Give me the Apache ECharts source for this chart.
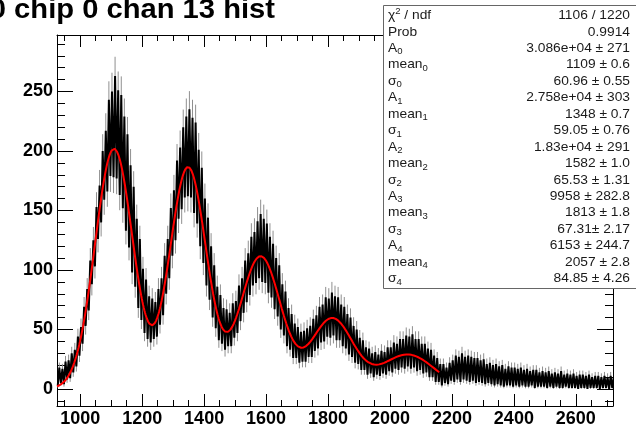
<!DOCTYPE html>
<html>
<head>
<meta charset="utf-8">
<title>0 chip 0 chan 13 hist</title>
<script src="https://cdn.jsdelivr.net/npm/echarts@6/dist/echarts.min.js"></script>
<style>
  html, body { margin: 0; padding: 0; background: #fff; }
  #chart { width: 636px; height: 425px; }
</style>
</head>
<body>
<div id="chart"></div>
<script>
// ---- histogram and fit data ----
const histTitle = '0 chip 0 chan 13 hist';

const X_MIN = 925, X_MAX = 2720;
const Y_MIN = -14.3, Y_MAX = 297.5;
const xTickLabels = [1000, 1200, 1400, 1600, 1800, 2000, 2200, 2400, 2600];
const yTickLabels = [0, 50, 100, 150, 200, 250];

// bin groups of 10 ADC counts starting at 930: lowest and highest content in each group
const binStart = 930, binStep = 10;
const bandLow = [
  3, 5, 4, 8, 9, 14, 19, 28, 38, 53,
  66, 88, 103, 126, 140, 159, 166, 179, 178, 177,
  163, 152, 133, 119, 98, 86, 68, 58, 47, 42,
  39, 42, 44, 54, 62, 80, 93, 112, 125, 143,
  151, 161, 162, 161, 148, 139, 120, 106, 87, 75,
  60, 51, 41, 38, 33, 36, 36, 43, 47, 57,
  64, 73, 79, 87, 89, 93, 90, 89, 81, 77,
  67, 61, 50, 45, 36, 33, 26, 26, 22, 23,
  23, 27, 27, 32, 34, 39, 40, 44, 43, 45,
  41, 41, 36, 34, 29, 27, 22, 21, 16, 16,
  12, 13, 10, 12, 11, 13, 12, 15, 14, 17,
  16, 18, 17, 19, 17, 18, 15, 16, 13, 14,
  10, 10, 6, 6, 3, 5, 4, 7, 6, 8,
  6, 8, 7, 6, 7, 5, 6, 5, 4, 5,
  4, 3, 4, 3, 2, 3, 3, 2, 3, 2,
  3, 2, 2, 3, 1, 2, 2, 2, 1, 2,
  1, 2, 1, 1, 2, 1, 1, 1, 0, 1,
  1, 0, 1, 1, 1, 0, 1, 1, 0, 1
];
const bandHigh = [
  18, 17, 23, 24, 30, 33, 44, 52, 69, 84,
  108, 125, 153, 171, 200, 217, 243, 250, 263, 251,
  247, 229, 214, 188, 170, 143, 126, 101, 92, 78,
  76, 73, 84, 93, 112, 126, 152, 167, 192, 203,
  220, 229, 235, 228, 224, 201, 186, 160, 144, 120,
  104, 86, 79, 68, 67, 64, 72, 74, 87, 93,
  108, 114, 128, 132, 141, 147, 143, 139, 128, 122,
  110, 104, 88, 82, 68, 63, 55, 52, 48, 49,
  51, 53, 59, 62, 69, 71, 77, 76, 81, 78,
  77, 71, 69, 63, 60, 53, 50, 43, 41, 35,
  34, 30, 31, 29, 32, 31, 35, 35, 39, 38,
  42, 42, 45, 44, 46, 42, 42, 38, 38, 34,
  33, 28, 26, 21, 21, 18, 22, 24, 28, 27,
  30, 27, 28, 27, 26, 26, 24, 25, 21, 22,
  20, 21, 19, 20, 17, 19, 18, 18, 17, 18,
  16, 17, 15, 16, 16, 14, 15, 14, 15, 13,
  14, 13, 15, 12, 13, 12, 13, 11, 12, 12,
  11, 12, 10, 11, 11, 10, 11, 10, 11, 10
];

// fit results (sum of five gaussians), as printed in the statistics box
const fitChi2 = '1106 / 1220';
const fitProb = '0.9914';
const ampText   = ['3.086e+04 ± 271', '2.758e+04 ± 303', '1.83e+04 ± 291', '9958 ± 282.8', '6153 ± 244.7'];
const meanText  = ['1109 ± 0.6', '1348 ± 0.7', '1582 ± 1.0', '1813 ± 1.8', '2057 ± 2.8'];
const sigmaText = ['60.96 ± 0.55', '59.05 ± 0.76', '65.53 ± 1.31', '67.31± 2.17', '84.85 ± 4.26'];
const fitRange = [925, 2160];

// ---- derived drawing data ----
const fitAmp = ampText.map(parseFloat);
const fitMean = meanText.map(parseFloat);
const fitSigma = sigmaText.map(parseFloat);

const histPoints = [];
bandLow.forEach((lo, i) => {
  const xc = binStart + binStep * i;
  histPoints.push([xc - binStep / 4, lo], [xc + binStep / 4, bandHigh[i]]);
});
// Poisson error bar on every plotted content
const errorBars = histPoints.map(([x, v]) => [x, v - Math.sqrt(v), v + Math.sqrt(v)]);

function fitFunc(x) {
  let s = 0;
  for (let k = 0; k < fitAmp.length; k++) {
    const z = (x - fitMean[k]) / fitSigma[k];
    s += fitAmp[k] / (fitSigma[k] * Math.sqrt(2 * Math.PI)) * Math.exp(-0.5 * z * z);
  }
  return s;
}
const fitPoints = [];
for (let x = fitRange[0]; x <= fitRange[1]; x += 2) fitPoints.push([x, fitFunc(x)]);

const xMinorTicks = [];
for (let v = 950; v < X_MAX; v += 50) xMinorTicks.push(v);
const yMinorTicks = [];
for (let v = -10; v < Y_MAX; v += 10) yMinorTicks.push(v);

// ---- styling ----
const FONT = "'Liberation Sans', Arial, Helvetica, sans-serif";
const axisFont = { fontFamily: FONT, fontWeight: 'bold', fontSize: 18, color: '#000' };

function axisDef(dim, position, ticks, len, withLine, withLabels) {
  const a = {
    type: 'value', gridIndex: 0, position,
    min: dim === 'x' ? X_MIN : Y_MIN,
    max: dim === 'x' ? X_MAX : Y_MAX,
    axisLine: { show: withLine, onZero: false, lineStyle: { color: '#000', width: 1 } },
    axisTick: { show: true, inside: true, length: len, customValues: ticks,
                lineStyle: { color: '#000', width: 1 } },
    axisLabel: { show: false },
    splitLine: { show: false },
    minorTick: { show: false }
  };
  if (withLabels) {
    a.axisLabel = Object.assign({ show: true, customValues: ticks,
      margin: 4, formatter: v => String(v) }, axisFont);
  }
  return a;
}

// statistics box rows
const statRows = [
  { label: '{b|χ}{p|2}{b| / ndf}', value: fitChi2 },
  { label: '{b|Prob}', value: fitProb }
];
for (let k = 0; k < fitAmp.length; k++) {
  statRows.push({ label: '{b|A}{s|' + k + '}', value: ampText[k] });
  statRows.push({ label: '{b|mean}{s|' + k + '}', value: meanText[k] });
  statRows.push({ label: '{b|σ}{s|' + k + '}', value: sigmaText[k] });
}
const statColor = '#1a1a1a';
const statRich = {
  b: { fontSize: 13, fontFamily: FONT, fill: statColor },
  s: { fontSize: 9, fontFamily: FONT, fill: statColor, padding: [7, 0, 0, 0] },
  p: { fontSize: 9, fontFamily: FONT, fill: statColor, padding: [0, 0, 7, 0] }
};

const graphics = [
  {
    type: 'text', x: 275, y: 11, scaleX: 1.08, z: 100, silent: true,
    style: { text: histTitle, fontFamily: FONT, fontWeight: 'bold', fontSize: 27,
             fill: '#000', align: 'right', verticalAlign: 'middle' }
  },
  {
    type: 'rect', z: 100, silent: true,
    shape: { x: 383.5, y: 5.5, width: 260, height: 283 },
    style: { fill: '#fff', stroke: '#666', lineWidth: 1 }
  }
];
statRows.forEach((row, i) => {
  const y = 15.5 + 16.45 * i;
  graphics.push({
    type: 'text', x: 388, y, scaleX: 1.06, z: 101, silent: true,
    style: { text: row.label, rich: statRich, fontSize: 13, fontFamily: FONT, fill: statColor,
             align: 'left', verticalAlign: 'middle' }
  });
  graphics.push({
    type: 'text', x: 630, y, scaleX: 1.06, z: 101, silent: true,
    style: { text: row.value, fontSize: 13, fontFamily: FONT, fill: statColor,
             align: 'right', verticalAlign: 'middle' }
  });
});

const chart = echarts.init(document.getElementById('chart'), null, { renderer: 'canvas' });
chart.setOption({
  animation: false,
  backgroundColor: '#fff',
  grid: { left: 57, right: 23, top: 35, bottom: 19, containLabel: false, outerBoundsMode: 'none' },
  xAxis: [
    axisDef('x', 'bottom', xTickLabels, 12, true, true),
    axisDef('x', 'bottom', xMinorTicks, 6, false, false),
    axisDef('x', 'top', xTickLabels, 12, true, false),
    axisDef('x', 'top', xMinorTicks, 6, false, false)
  ],
  yAxis: [
    axisDef('y', 'left', yTickLabels, 16, true, true),
    axisDef('y', 'left', yMinorTicks, 8, false, false),
    axisDef('y', 'right', yTickLabels, 16, true, false),
    axisDef('y', 'right', yMinorTicks, 8, false, false)
  ],
  series: [
    {
      type: 'custom', name: 'errors', xAxisIndex: 0, yAxisIndex: 0, z: 1, silent: true,
      clip: true, encode: { x: 0, y: [1, 2] }, data: errorBars,
      renderItem: (params, api) => {
        const p1 = api.coord([api.value(0), api.value(1)]);
        const p2 = api.coord([api.value(0), api.value(2)]);
        return { type: 'line', shape: { x1: p1[0], y1: p1[1], x2: p2[0], y2: p2[1] },
                 style: { stroke: '#8f8f8f', lineWidth: 1 } };
      }
    },
    {
      type: 'line', name: 'hist', xAxisIndex: 0, yAxisIndex: 0, z: 2, silent: true,
      data: histPoints, showSymbol: false, symbol: 'none', clip: true,
      lineStyle: { color: '#000', width: 2 }
    },
    {
      type: 'line', name: 'fit', xAxisIndex: 0, yAxisIndex: 0, z: 3, silent: true,
      data: fitPoints, showSymbol: false, symbol: 'none', clip: true,
      lineStyle: { color: '#ff0000', width: 2 }
    }
  ],
  graphic: { elements: graphics }
});
</script>
</body>
</html>
